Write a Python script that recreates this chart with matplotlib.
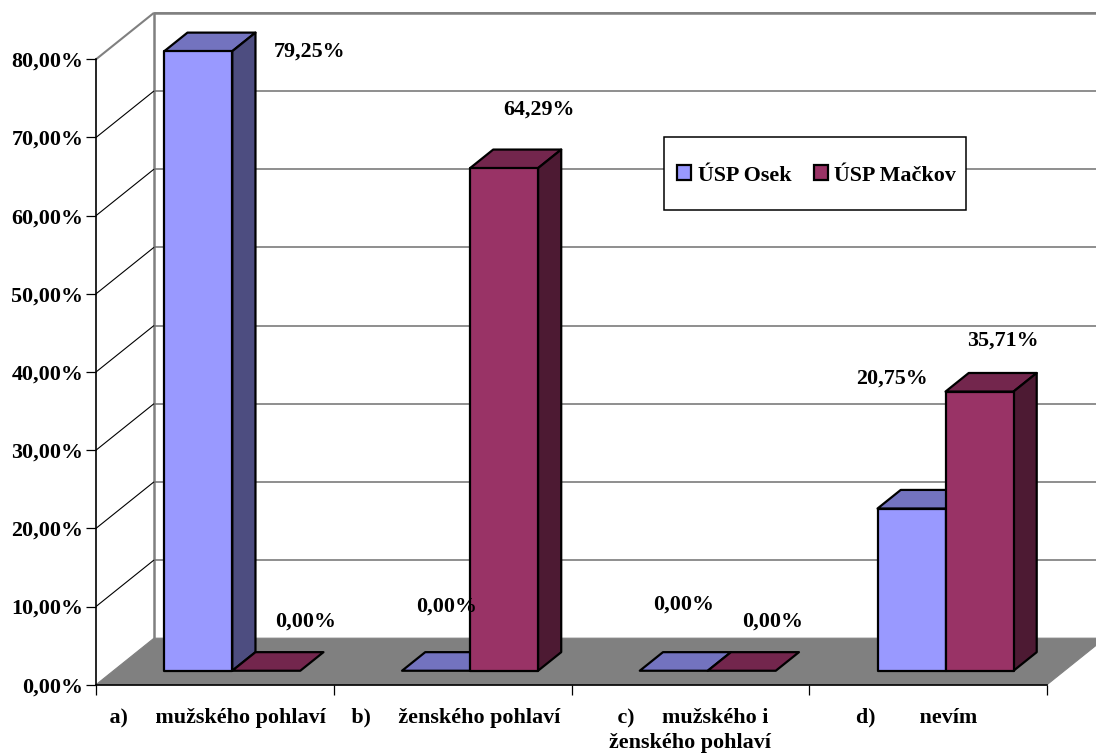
import matplotlib
matplotlib.use("Agg")
import matplotlib.pyplot as plt
from matplotlib.patches import Patch, Polygon, Rectangle

# Survey results, percent of respondents
categories = [" a)     mužského pohlaví", " b)     ženského pohlaví",
              " c)     mužského i\nženského pohlaví", "d)        nevím    "]
series_names = ["ÚSP Osek", "ÚSP Mačkov"]
osek = [79.25, 0.00, 0.00, 20.75]
mackov = [0.00, 64.29, 0.00, 35.71]
y_ticks = [0, 10, 20, 30, 40, 50, 60, 70, 80]

# Face colours of each series: front, top, side
OSEK_FACES = ("#9999FF", "#7373BF", "#4D4D80")
MACKOV_FACES = ("#993366", "#73264D", "#4D1A33")

W, H = 1096, 755
FONT = dict(family="Liberation Serif", fontweight="bold", fontsize=15.8)

fig = plt.figure(figsize=(W / 100, H / 100), dpi=100, facecolor="white")
ax = fig.add_axes([96 / W, 1 - 684.7 / H, 951 / W, 625.4 / H])
ax.set_xlim(0, 4)
ax.set_ylim(0, 80)
ax.patch.set_visible(False)

# Oblique depth of the plot box, in data units
DX = 58 / (951 / 4)
DY = 46.5 / (625.4 / 80)
BAR_W = 0.286
BAR_MARGIN = 0.214
DEPTH_FRONT, DEPTH_BACK = 0.30, 0.70


def project(x, v, d):
    return x + d * DX, v + d * DY


def poly(points, face, edge="black", lw=1.6, z=3):
    ax.add_patch(Polygon(points, closed=True, facecolor=face, edgecolor=edge,
                         linewidth=lw, clip_on=False, zorder=z, joinstyle="round"))


def line(xs, ys, color, lw, z=1):
    ax.plot(xs, ys, color=color, lw=lw, clip_on=False, zorder=z, solid_capstyle="butt")


# Back wall and its gridlines
x_back, top_back = project(0, y_ticks[-1], 1)
_, bottom_back = project(0, 0, 1)
line([x_back, x_back], [bottom_back, top_back], "#808080", 1.8)
for t in y_ticks[1:]:
    x0, y0 = project(0, t, 0)
    x1, y1 = project(0, t, 1)
    line([x1, project(4, t, 1)[0]], [y1, y1], "#707070", 1.1)
    if t == y_ticks[-1]:
        line([x0, x1], [y0, y1], "#808080", 1.5)
    else:
        line([x0, x1], [y0, y1], "black", 0.8)
line([x_back, project(4, 0, 1)[0]], [top_back, top_back], "#808080", 1.8)

# Floor
poly([project(0, 0, 0), project(4, 0, 0), project(4, 0, 1), project(0, 0, 1)],
     "#808080", edge="#808080", lw=0.8, z=2)


def draw_bar(left, value, faces, z):
    right = left + BAR_W
    front, top, side = faces
    a, b = DEPTH_FRONT, DEPTH_BACK
    poly([project(left, value, a), project(right, value, a),
          project(right, value, b), project(left, value, b)], top, z=z)
    if value > 0:
        poly([project(right, 0, a), project(right, 0, b),
              project(right, value, b), project(right, value, a)], side, z=z)
        poly([project(left, 0, a), project(right, 0, a),
              project(right, value, a), project(left, value, a)], front, z=z)


# Hand-placed value labels: pixel shift from the top centre of each bar
osek_shifts = [(111, 0), (11, 64), (10, 66), (-20, 130)]
mackov_shifts = [(39, 49), (35, 59), (31, 49), (23, 51)]


def label_bar(left, value, shift):
    x, y = project(left + BAR_W / 2, value, DEPTH_FRONT)
    ax.annotate(f"{value:.2f}%".replace(".", ","), (x, y), xytext=shift,
                textcoords="offset pixels", ha="center", va="center",
                annotation_clip=False, zorder=20, **FONT)


for i in range(len(categories)):
    x_left = i + BAR_MARGIN
    draw_bar(x_left, osek[i], OSEK_FACES, 5 + i * 2)
    draw_bar(x_left + BAR_W, mackov[i], MACKOV_FACES, 6 + i * 2)
    label_bar(x_left, osek[i], osek_shifts[i])
    label_bar(x_left + BAR_W, mackov[i], mackov_shifts[i])

# Axes
for name in ("top", "right"):
    ax.spines[name].set_visible(False)
for name in ("left", "bottom"):
    ax.spines[name].set_linewidth(1.2)
    ax.spines[name].set_zorder(4)
ax.set_yticks(y_ticks)
ax.set_yticklabels([f"{t:.2f}%".replace(".", ",") for t in y_ticks], **FONT)
ax.set_xticks(range(len(categories) + 1))
ax.set_xticklabels([])
ax.set_xticks([i + 0.5 for i in range(len(categories))], minor=True)
ax.set_xticklabels(categories, minor=True, linespacing=1.38, **FONT)
ax.tick_params(axis="y", length=7.2, width=0.9, pad=1.8)
ax.tick_params(axis="x", which="major", length=7.2, width=0.9)
ax.tick_params(axis="x", which="minor", length=0, pad=16.5)

# Legend box
fig.add_artist(Rectangle((664 / W, 1 - 210 / H), 301.5 / W, 73 / H,
                         transform=fig.transFigure, facecolor="white",
                         edgecolor="black", linewidth=1.1, zorder=30))
handles = [Patch(facecolor=OSEK_FACES[0], edgecolor="black", linewidth=1.6),
           Patch(facecolor=MACKOV_FACES[0], edgecolor="black", linewidth=1.6)]
legend = fig.legend(handles, series_names, ncol=2, frameon=False, loc="center",
                    bbox_to_anchor=(816.8 / W, 1 - 175.5 / H),
                    prop=dict(family="Liberation Serif", weight="bold", size=15.8),
                    handlelength=0.65, handleheight=0.65, handletextpad=0.3,
                    columnspacing=1.0)
legend.set_zorder(31)

fig.savefig("out.png", dpi=100)
